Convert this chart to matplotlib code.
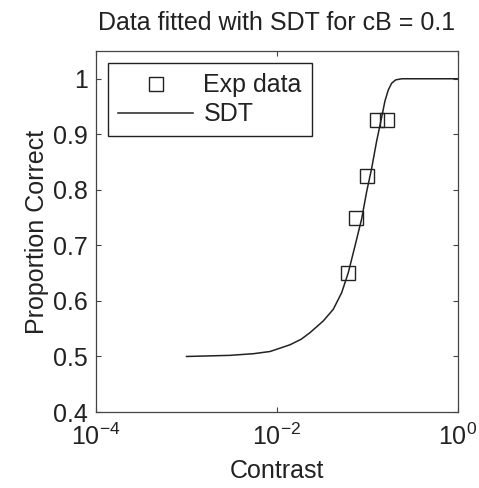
import matplotlib
matplotlib.use("Agg")
import matplotlib.pyplot as plt
from matplotlib.ticker import FixedLocator, NullLocator

plt.rcParams['font.family'] = ['Liberation Sans', 'DejaVu Sans']
plt.rcParams['mathtext.fontset'] = 'custom'
plt.rcParams['mathtext.rm'] = 'Liberation Sans'
plt.rcParams['mathtext.it'] = 'Liberation Sans:italic'
plt.rcParams['mathtext.default'] = 'regular'

exp_contrast = [0.061, 0.075, 0.1, 0.127, 0.166]
exp_pc = [0.65, 0.75, 0.825, 0.925, 0.925]

# SDT fit curve
sdt_contrast = [0.001, 0.003, 0.0055, 0.0084, 0.0139, 0.0185, 0.0232, 0.0325, 0.0419,
                0.0519, 0.0614, 0.0728, 0.0863, 0.098, 0.111, 0.126, 0.144,
                0.156, 0.17, 0.185, 0.205, 0.239, 1.0]
sdt_pc = [0.500, 0.502, 0.505, 0.509, 0.521, 0.531, 0.543, 0.564, 0.585,
          0.615, 0.651, 0.699, 0.748, 0.797, 0.838, 0.887, 0.932,
          0.960, 0.980, 0.992, 0.998, 1.0, 1.0]

x_ticks = [1e-4, 1e-2, 1e0]
x_ticklabels = ['$10^{-4}$', '$10^{-2}$', '$10^{0}$']
y_ticks = [0.4, 0.5, 0.6, 0.7, 0.8, 0.9, 1.0]
y_ticklabels = ['0.4', '0.5', '0.6', '0.7', '0.8', '0.9', '1']

txt = '#222222'
fs = 18

fig = plt.figure(figsize=(4.79, 4.88), dpi=100)
ax = fig.add_axes([0.2004, 0.1557, 0.7557, 0.7398])

h_exp, = ax.plot(exp_contrast, exp_pc, linestyle='none', marker='s', markersize=9.5,
                 markerfacecolor='none', markeredgecolor='#222222', markeredgewidth=1.0,
                 label='Exp data')
h_sdt, = ax.plot(sdt_contrast, sdt_pc, color='#222222', linewidth=1.1, label='SDT')

ax.set_xscale('log')
ax.set_xlim(1e-4, 1)
ax.set_ylim(0.4, 1.05)
ax.xaxis.set_major_locator(FixedLocator(x_ticks))
ax.xaxis.set_minor_locator(NullLocator())
ax.set_xticklabels(x_ticklabels)
ax.set_yticks(y_ticks)
ax.set_yticklabels(y_ticklabels)

ax.tick_params(which='both', direction='in', top=True, right=True, length=3.5,
               width=0.8, colors='#444444', labelcolor=txt, labelsize=fs)
ax.tick_params(axis='y', pad=6)
ax.tick_params(axis='x', pad=8)
for s in ax.spines.values():
    s.set_linewidth(0.9)
    s.set_color('#444444')

ax.set_xlabel('Contrast', fontsize=fs, color=txt, labelpad=7)
ax.set_ylabel('Proportion Correct', fontsize=fs, color=txt, labelpad=3)
ax.set_title('Data fitted with SDT for cB = 0.1', fontsize=fs, color=txt, pad=15)

leg = ax.legend(handles=[h_exp, h_sdt], loc='upper left', fontsize=fs,
                frameon=True, fancybox=False, framealpha=1, edgecolor='#222222',
                handlelength=3.0, handletextpad=0.4, labelspacing=0.2,
                borderpad=0.4, borderaxespad=0.5)
leg.get_frame().set_linewidth(1.0)
for t in leg.get_texts():
    t.set_color(txt)

fig.savefig('out.png', dpi=100, facecolor='white')
